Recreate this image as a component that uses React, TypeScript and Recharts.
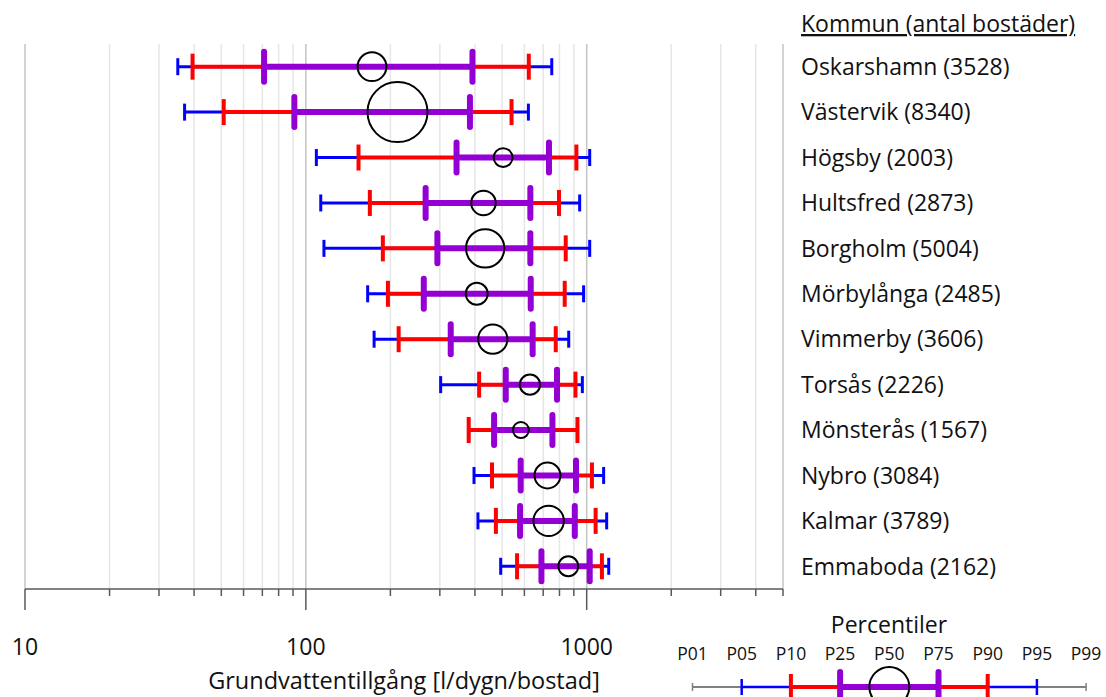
import React from 'react';
import { ComposedChart, Scatter, ErrorBar, XAxis, YAxis, CartesianGrid } from 'recharts';

const names = ['Oskarshamn', 'Västervik', 'Högsby', 'Hultsfred', 'Borgholm', 'Mörbylånga', 'Vimmerby', 'Torsås', 'Mönsterås', 'Nybro', 'Kalmar', 'Emmaboda'];
const counts = [3528, 8340, 2003, 2873, 5004, 2485, 3606, 2226, 1567, 3084, 3789, 2162];
const p05 = [35, 37, 109, 113, 116, 166, 175, 302, 380, 397, 410, 494];
const p10 = [39.5, 51, 154, 169, 188, 196, 214, 414, 380, 460, 475, 565];
const p25 = [71, 91, 344, 267, 294, 263, 328, 515, 468, 582, 579, 690];
const p50 = [172, 212, 504, 429, 435, 406, 463, 628, 583, 725, 732, 860];
const p75 = [392, 384, 734, 630, 630, 632, 642, 784, 755, 916, 907, 1025];
const p90 = [622, 540, 919, 797, 842, 835, 776, 912, 927, 1044, 1076, 1133];
const p95 = [751, 620, 1025, 944, 1025, 975, 863, 965, 927, 1149, 1178, 1198];

const gridTicks = [10, 20, 30, 40, 50, 60, 70, 80, 90, 100, 200, 300, 400, 500, 600, 700, 800, 900, 1000, 2000, 3000, 4000, 5000];
const labeledTicks = [10, 100, 1000];
const strongGrid = [10, 100, 1000, 5000];
const legendLabels = ['P01', 'P05', 'P10', 'P25', 'P50', 'P75', 'P90', 'P95', 'P99'];

const xTitle = 'Grundvattentillgång [l/dygn/bostad]';
const yTitle = 'Kommun (antal bostäder)';
const legendTitle = 'Percentiler';

const data = names.map((n, i) => ({
  label: `${n} (${counts[i]})`,
  count: counts[i],
  p50: p50[i],
  errBlue: [p50[i] - p05[i], p95[i] - p50[i]],
  errRed: [p50[i] - p10[i], p90[i] - p50[i]],
  errPurple: [p50[i] - p25[i], p75[i] - p50[i]],
}));

const FONT = '"Open Sans", sans-serif';
const BLUE = '#0000ff';
const RED = '#ff0000';
const PURPLE = '#9400d3';
const AXIS = '#595959';

const radiusFor = (c: number) => 2.9 + 0.00325 * c;

const XTick = (props: any) => {
  const { x, y, payload } = props;
  const v = payload.value;
  const major = labeledTicks.includes(v);
  return (
    <g>
      <line x1={x} y1={y} x2={x} y2={y + (major ? 21 : 7)} stroke={AXIS} strokeWidth={1.5} />
      {major && (
        <text x={x} y={y + 66} textAnchor="middle" fontFamily={FONT} fontSize={23} fill="#111">
          {v}
        </text>
      )}
    </g>
  );
};

const YTick = (props: any) => {
  const { x, y, payload } = props;
  return (
    <text x={x} y={y} dy="0.36em" textAnchor="start" fontFamily={FONT} fontSize={23} fill="#111">
      {payload.value}
    </text>
  );
};

const GridLine = (props: any) => {
  const { x1, y1, x2, y2, index } = props;
  const v = gridTicks[index];
  const strong = strongGrid.includes(v);
  return <line x1={x1} y1={y1} x2={x2} y2={y2} stroke={strong ? '#c4c4c4' : '#e6e6e6'} strokeWidth={1.5} />;
};

const Bubble = (props: any) => {
  const { cx, cy, payload } = props;
  return <circle cx={cx} cy={cy} r={radiusFor(payload.count)} fill="none" stroke="#000" strokeWidth={2} />;
};

const LegendGlyph = () => {
  const x0 = 692.5;
  const step = 49.2;
  const px = (i: number) => x0 + i * step;
  const ly = 687;
  return (
    <g>
      <text x={889} y={633} textAnchor="middle" fontFamily={FONT} fontSize={23} fill="#111">
        {legendTitle}
      </text>
      {legendLabels.map((l, i) => (
        <text key={l} x={px(i)} y={660} textAnchor="middle" fontFamily={FONT} fontSize={17.5} fill="#111">
          {l}
        </text>
      ))}
      <line x1={px(0)} y1={ly} x2={px(8)} y2={ly} stroke="#808080" strokeWidth={2} />
      <line x1={px(0)} y1={ly - 4} x2={px(0)} y2={ly + 4} stroke="#808080" strokeWidth={1.5} />
      <line x1={px(8)} y1={ly - 4} x2={px(8)} y2={ly + 4} stroke="#808080" strokeWidth={1.5} />
      <line x1={px(1)} y1={ly} x2={px(7)} y2={ly} stroke={BLUE} strokeWidth={2.5} />
      <line x1={px(1)} y1={ly - 8} x2={px(1)} y2={ly + 8} stroke={BLUE} strokeWidth={2.5} />
      <line x1={px(7)} y1={ly - 8} x2={px(7)} y2={ly + 8} stroke={BLUE} strokeWidth={2.5} />
      <line x1={px(2)} y1={ly} x2={px(6)} y2={ly} stroke={RED} strokeWidth={4} />
      <line x1={px(2)} y1={ly - 13} x2={px(2)} y2={ly + 13} stroke={RED} strokeWidth={4} />
      <line x1={px(6)} y1={ly - 13} x2={px(6)} y2={ly + 13} stroke={RED} strokeWidth={4} />
      <line x1={px(3)} y1={ly} x2={px(5)} y2={ly} stroke={PURPLE} strokeWidth={6} />
      <line x1={px(3)} y1={ly - 15} x2={px(3)} y2={ly + 15} stroke={PURPLE} strokeWidth={6} strokeLinecap="round" />
      <line x1={px(5)} y1={ly - 15} x2={px(5)} y2={ly + 15} stroke={PURPLE} strokeWidth={6} strokeLinecap="round" />
      <circle cx={px(4)} cy={ly} r={20} fill="none" stroke="#000" strokeWidth={2} />
    </g>
  );
};

export default function App() {
  return (
    <div style={{ position: 'absolute', left: 0, top: 0, width: 1106, height: 697, background: '#fff' }}>
      <ComposedChart
        width={1106}
        height={697}
        data={data}
        layout="vertical"
        margin={{ top: 44, right: 0, bottom: 0, left: 25 }}
      >
        <CartesianGrid horizontal={false} vertical={GridLine} />
        <XAxis
          type="number"
          dataKey="p50"
          scale="log"
          domain={[10, 5000]}
          allowDataOverflow
          ticks={gridTicks}
          interval={0}
          height={108}
          tickSize={0}
          tickMargin={0}
          tickLine={false}
          axisLine={{ stroke: AXIS, strokeWidth: 1.5 }}
          tick={XTick}
          label={{ value: xTitle, position: 'insideBottom', offset: 8, fontFamily: FONT, fontSize: 23.5, fill: '#111' }}
        />
        <YAxis
          type="category"
          dataKey="label"
          orientation="right"
          width={323}
          axisLine={false}
          tickLine={false}
          tickSize={0}
          tickMargin={18}
          interval={0}
          padding={{ top: 22.7, bottom: 22.7 }}
          tick={YTick}
        />
        <Scatter dataKey="p50" shape={Bubble} isAnimationActive={false} legendType="none">
          <ErrorBar dataKey="errBlue" direction="x" stroke={BLUE} strokeWidth={3} width={8.5} isAnimationActive={false} />
          <ErrorBar dataKey="errRed" direction="x" stroke={RED} strokeWidth={4} width={13} isAnimationActive={false} />
          <ErrorBar dataKey="errPurple" direction="x" stroke={PURPLE} strokeWidth={6} width={15} strokeLinecap="round" isAnimationActive={false} />
        </Scatter>
        <text x={801} y={32} fontFamily={FONT} fontSize={23} fill="#111" style={{ textDecoration: 'underline' }}>
          {yTitle}
        </text>
        <LegendGlyph />
      </ComposedChart>
    </div>
  );
}
